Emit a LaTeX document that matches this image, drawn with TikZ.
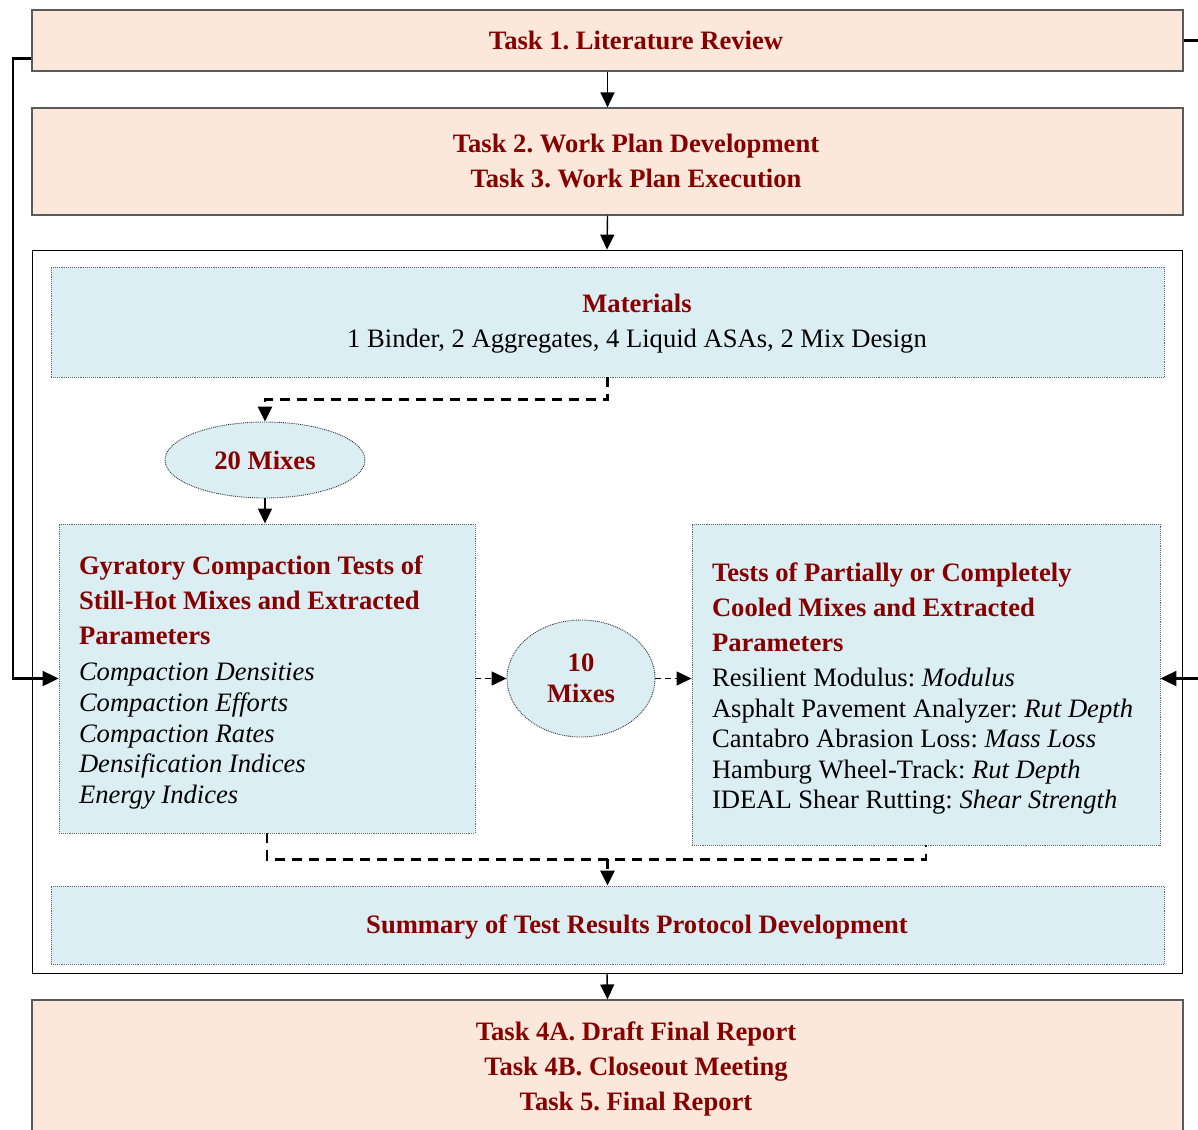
\documentclass[tikz,border=0pt]{standalone}
\usepackage{fontspec}
\setmainfont{Liberation Serif}
\usepackage{tikz}
\usetikzlibrary{arrows.meta,shapes.geometric}
\definecolor{taskPeach}{RGB}{252,232,218}
\definecolor{testBlue}{RGB}{218,238,243}
\definecolor{titleRed}{RGB}{135,0,0}
\definecolor{boxGray}{RGB}{90,90,90}
\frenchspacing

\begin{document}
\begin{tikzpicture}[x=1pt,y=-1pt,
    font=\fontsize{26.6}{30.6}\selectfont,
    taskbox/.style={draw=boxGray, line width=1.2pt, fill=taskPeach, minimum width=1151pt, inner sep=0pt},
    testbox/.style={draw=black!60, densely dotted, line width=0.9pt, fill=testBlue, inner sep=0pt},
    mixbubble/.style={ellipse, draw=black!80, densely dotted, line width=0.9pt, fill=testBlue, inner sep=0pt,
        font=\fontsize{26.6}{31}\selectfont\bfseries, text=titleRed, align=center},
    tasktitle/.style={font=\fontsize{26.6}{35}\selectfont\bfseries, text=titleRed, align=center},
    flow/.style={-{Triangle[length=15pt,width=14pt]}, line width=1.4pt},
    feed/.style={-{Triangle[length=16pt,width=15pt]}, line width=2.2pt},
    dashflow/.style={dash pattern=on 10pt off 7pt, line width=2.8pt},
    dashlink/.style={-{Triangle[length=15pt,width=14pt]}, dash pattern=on 6pt off 4pt, line width=1.4pt}]

\useasboundingbox (0,0) rectangle (1198,1129);
\clip (0,0) rectangle (1198,1129);

% project tasks
\node[taskbox, minimum height=61pt] (t1) at (607.5,40.5) {};
\node[tasktitle] (t1txt) at (636,40) {Task 1. Literature Review};
\node[taskbox, minimum height=107pt] (t23) at (607.5,161.5) {};
\node[tasktitle] (t23txt) at (636,161) {Task 2. Work Plan Development\\Task 3. Work Plan Execution};

% lab program
\node[draw=black, line width=0.8pt, fill=white, minimum width=1150pt, minimum height=723pt, inner sep=0pt] (frame) at (607,611.5) {};
\node[testbox, minimum width=1113pt, minimum height=110pt] (mat) at (607.5,322) {};
\node[font=\fontsize{26.6}{35}\selectfont, align=center] (mattxt) at (637,324)
    {\textcolor{titleRed}{\bfseries Materials}\\1 Binder, 2 Aggregates, 4 Liquid ASAs, 2 Mix Design};
\node[mixbubble, minimum width=200pt, minimum height=76pt] (mix20) at (265,460) {20 Mixes};

\node[testbox, minimum width=416pt, minimum height=309pt, text width=376pt, inner xsep=20pt, align=flush left] (gyr) at (267,678.5)
    {{\bfseries\color{titleRed}\rule{0pt}{27pt}Gyratory Compaction Tests of\\[4.4pt]Still-Hot Mixes and Extracted\\[4.4pt]Parameters}\\[5.4pt]
     \textit{Compaction Densities}\\
     \textit{Compaction Efforts}\\
     \textit{Compaction Rates}\\
     \textit{Densification Indices}\\
     \textit{Energy Indices}};
\node[mixbubble, minimum width=148pt, minimum height=117pt] (mix10) at (581,678.5) {10\\Mixes};
\node[testbox, minimum width=468pt, minimum height=321pt, text width=428pt, inner xsep=20pt, align=flush left] (part) at (926,684.5)
    {{\bfseries\color{titleRed}\rule{0pt}{27pt}Tests of Partially or Completely\\[4.4pt]Cooled Mixes and Extracted\\[4.4pt]Parameters}\\[4.4pt]
     \mbox{Resilient Modulus: \textit{Modulus}}\\
     \mbox{Asphalt Pavement Analyzer: \textit{Rut Depth}}\\
     \mbox{Cantabro Abrasion Loss: \textit{Mass Loss}}\\
     \mbox{Hamburg Wheel-Track: \textit{Rut Depth}}\\
     \mbox{IDEAL Shear Rutting: \textit{Shear Strength}}};

\node[testbox, minimum width=1113pt, minimum height=78pt] (summ) at (607.5,925) {};
\node[tasktitle] (summtxt) at (637,927) {Summary of Test Results Protocol Development};

% closeout tasks
\node[taskbox, minimum height=160pt] (t45) at (607.5,1080) {};
\node[tasktitle] (t45txt) at (636,1069) {Task 4A. Draft Final Report\\Task 4B. Closeout Meeting\\Task 5. Final Report};

% connectors
\draw[flow] (t1.south) -- (t23.north);
\draw[flow] (t23.south) -- (frame.north);
\draw[flow] (frame.south) -- (t45.north);

\draw[dashflow, -{Triangle[length=15pt,width=14pt]}] (mat.south) -- ++(0,22) -| (mix20.north);
\draw[flow] (mix20.south) -- (mix20.south |- gyr.north);
\draw[dashlink] (gyr.east) -- (mix10.west);
\draw[dashlink] (mix10.east) -- (mix10.east -| part.west);

\draw[dashflow] (gyr.south) -- ++(0,26) coordinate (join) -| (part.south);
\draw[dashflow, -{Triangle[length=15pt,width=14pt]}] (join -| summ.north) -- (summ.north);

% literature feeds both test groups
\coordinate (lrail) at (13,0);
\coordinate (rrail) at (1215,0);
\draw[feed] ([yshift=-18pt]t1.west) -| (lrail |- gyr.west) -- (gyr.west);
\draw[feed] (t1.east) -| (rrail |- gyr.east) -- (gyr.east -| part.east);
\end{tikzpicture}
\end{document}
